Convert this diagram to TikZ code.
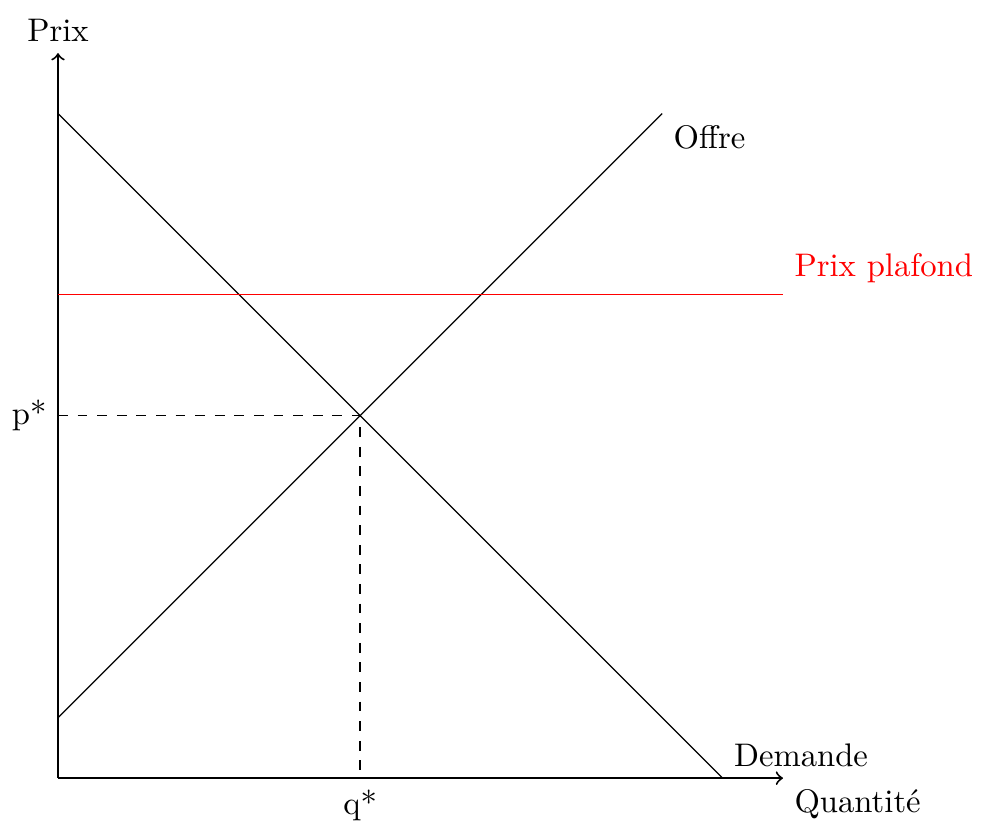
\documentclass[tikz,border=0pt]{standalone}
\begin{document}
\begin{tikzpicture}[x=0.65cm,y=0.65cm,
  axis/.style={semithick,->},
  curve/.style={line width=0.4pt},
  guide/.style={dashed,line width=0.4pt},
  lbl/.style={inner sep=3.33pt}]
\useasboundingbox (-0.96,-0.745) rectangle (15.31,12.88);
\coordinate (O) at (0,0);
\coordinate (xend) at (12,0);
\coordinate (yend) at (0,12);
\coordinate (d1) at (0,11);
\coordinate (d2) at (11,0);
\coordinate (s1) at (0,1);
\coordinate (s2) at (10,11);
\coordinate (c1) at (0,8);
\coordinate (c2) at (12,8);
\coordinate (E) at (5,6);
\coordinate (pE) at (0,6);
\coordinate (qE) at (5,0);
\draw[axis] (O) -- (xend);
\draw[axis] (O) -- (yend);
\node[lbl,anchor=base] (prix) at (0,12.2) {Prix};
\node[lbl,below right] (quant) at (xend) {Quantit\'e};
\draw[curve] (d1) -- (d2);
\node[lbl,above right] (dem) at (d2) {Demande};
\draw[curve] (s1) -- (s2);
\node[lbl,below right] (off) at (s2) {Offre};
\draw[curve,red] (c1) -- (c2);
\node[lbl,above right,text=red] (plaf) at (c2) {Prix plafond};
\draw[guide] (pE) -- (E) -- (qE);
\node[lbl,left] (pstar) at (pE) {p*};
\node[lbl,below] (qstar) at (qE) {q*};
\end{tikzpicture}
\end{document}
